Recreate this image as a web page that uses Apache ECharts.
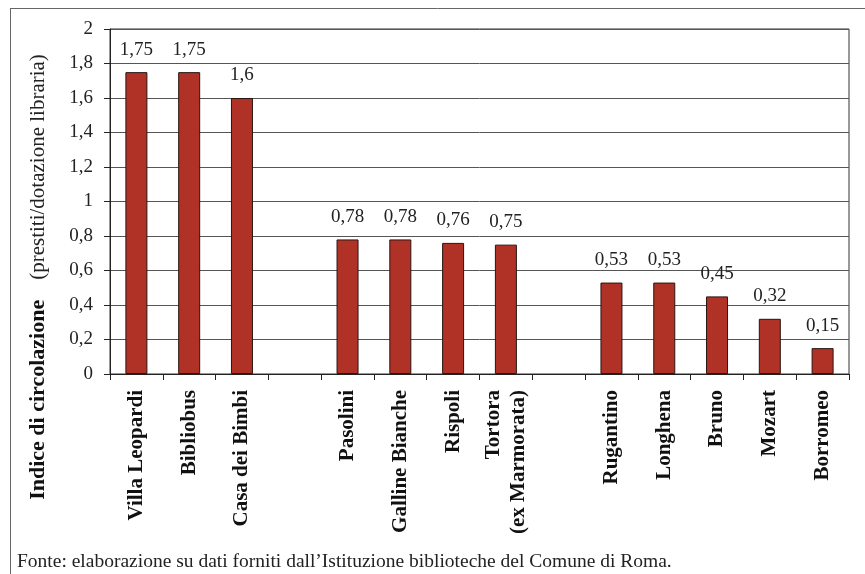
<!DOCTYPE html>
<html>
<head>
<meta charset="utf-8">
<script src="https://cdn.jsdelivr.net/npm/echarts@6/dist/echarts.min.js"></script>
<style>
  html, body { margin: 0; padding: 0; background: #fff; }
  #mainChat { width: 865px; height: 574px; }
</style>
</head>
<body>
<div id="mainChat"></div>
<script>
// categorie (stringhe vuote = spazio tra i gruppi)
const categories = [
  'Villa Leopardi', 'Bibliobus', 'Casa dei Bimbi', '',
  'Pasolini', 'Galline Bianche', 'Rispoli', 'Tortora\n(ex Marmorata)', '',
  'Rugantino', 'Longhena', 'Bruno', 'Mozart', 'Borromeo'
]
const values = [1.75, 1.75, 1.6, '-', 0.78, 0.78, 0.76, 0.75, '-', 0.53, 0.53, 0.45, 0.32, 0.15]
const yTicks = [0, 0.2, 0.4, 0.6, 0.8, 1, 1.2, 1.4, 1.6, 1.8, 2]
const fonte = 'Fonte: elaborazione su dati forniti dall\u2019Istituzione biblioteche del Comune di Roma.'

const serif = '"Liberation Serif", "DejaVu Serif", serif'
const comma = v => String(v).replace('.', ',')

const myChart = echarts.init(document.getElementById('mainChat'))
const option = {
  animation: false,
  grid: {
    left: 110, top: 29, right: 16, bottom: 200,
    show: true, borderColor: '#333', borderWidth: 1
  },
  xAxis: {
    type: 'category',
    data: categories,
    axisLine: { lineStyle: { color: '#222', width: 1 } },
    axisTick: { show: true, length: 6, lineStyle: { color: '#222' } },
    axisLabel: {
      rotate: 90,
      interval: 0,
      margin: 16,
      fontFamily: serif,
      fontWeight: 'bold',
      fontSize: 21,
      lineHeight: 25,
      color: '#111'
    }
  },
  yAxis: {
    type: 'value',
    min: yTicks[0],
    max: yTicks[yTicks.length - 1],
    interval: 0.2,
    axisLine: { show: true, lineStyle: { color: '#222' } },
    axisTick: { show: true, length: 6, lineStyle: { color: '#222' } },
    splitLine: { lineStyle: { color: '#555', width: 1 } },
    axisLabel: {
      margin: 17,
      fontFamily: serif,
      fontSize: 19,
      color: '#222',
      formatter: v => comma(Math.round(v * 10) / 10)
    }
  },
  series: [{
    type: 'bar',
    data: values,
    barWidth: 22,
    itemStyle: { color: '#b03226', borderColor: '#2a1512', borderWidth: 1 },
    label: {
      show: true,
      position: 'top',
      distance: 13,
      fontFamily: serif,
      fontSize: 19,
      color: '#222',
      formatter: p => comma(p.value)
    }
  }],
  graphic: [
    // cornice: linea superiore e sinistra
    { type: 'line', shape: { x1: 10, y1: 8.5, x2: 865, y2: 8.5 }, style: { stroke: '#666', lineWidth: 1 } },
    { type: 'line', shape: { x1: 10.5, y1: 8, x2: 10.5, y2: 574 }, style: { stroke: '#666', lineWidth: 1 } },
    {
      type: 'text',
      x: 38, y: 277,
      rotation: Math.PI / 2,
      style: {
        text: '{b|Indice di circolazione}      {n|(prestiti/dotazione libraria)}',
        align: 'center',
        verticalAlign: 'middle',
        rich: {
          b: { fontFamily: serif, fontWeight: 'bold', fontSize: 22, fill: '#111' },
          n: { fontFamily: serif, fontSize: 21, fill: '#222' }
        }
      }
    },
    {
      type: 'text',
      x: 17, y: 562,
      style: {
        text: fonte,
        fontFamily: serif,
        fontSize: 19.5,
        fill: '#222',
        verticalAlign: 'middle'
      }
    }
  ]
}
myChart.setOption(option)
</script>
</body>
</html>
